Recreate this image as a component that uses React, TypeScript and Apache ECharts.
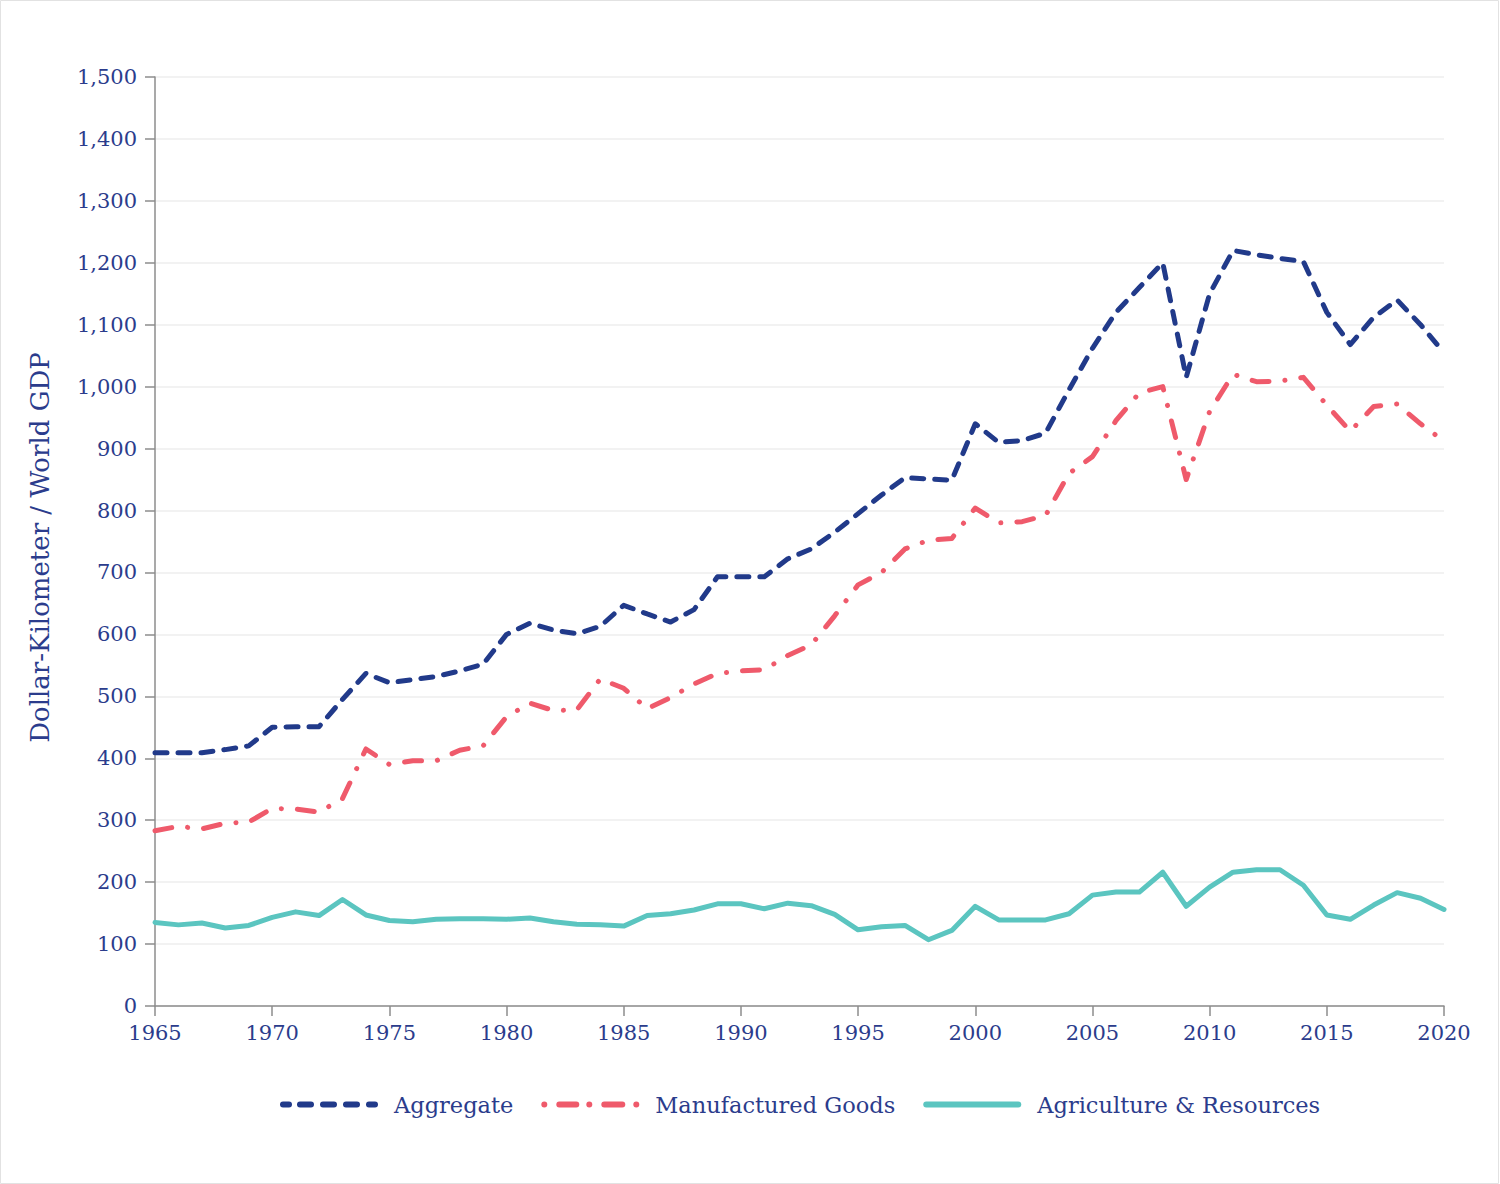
import React, { useEffect, useRef } from "react";
import * as echarts from "echarts";

const years: number[] = [];
for (let y = 1965; y <= 2020; y++) years.push(y);

const aggregate = [
  409, 409, 409, 414, 420, 450, 451, 451, 495, 537,
  522, 527, 532, 541, 552, 600, 618, 607, 601, 613,
  647, 633, 620, 640, 693, 693, 693, 722, 738, 765,
  795, 825, 853, 851, 849, 940, 910, 913, 925, 995,
  1062, 1120, 1160, 1200, 1015, 1150, 1220, 1213, 1207, 1202,
  1120, 1068, 1112, 1140, 1100, 1055,
];

const manufactured = [
  283, 290, 286, 295, 297, 319, 318, 313, 335, 415,
  390, 396, 396, 413, 420, 467, 489, 477, 478, 528,
  513, 480, 498, 520, 537, 541, 543, 566, 583, 630,
  680, 700, 738, 752, 755, 804, 780, 782, 792, 860,
  887, 945, 990, 1000, 850, 960, 1020, 1008, 1009, 1015,
  970, 928, 968, 972, 940, 912,
];

const agriculture = [
  135, 131, 134, 126, 130, 143, 152, 146, 172, 147,
  138, 136, 140, 141, 141, 140, 142, 136, 132, 131,
  129, 146, 149, 155, 165, 165, 157, 166, 162, 148,
  123, 128, 130, 107, 122, 161, 139, 139, 139, 149,
  179, 184, 184, 216, 161, 192, 216, 220, 220, 195,
  147, 140, 163, 183, 174, 156,
];

const seriesNames = ["Aggregate", "Manufactured Goods", "Agriculture & Resources"];
const yTicks = { min: 0, max: 1500, interval: 100 };
const xTicks = { min: 1965, max: 2020, interval: 5 };

const TEXT = "#2b3c8c";
const FONT = "'DejaVu Serif', serif";
const NAVY = "#213a8a";
const PINK = "#ef5a6b";
const TEAL = "#5bc5c0";

const ICON_W = 98;
const ICON_H = 6;

// rounded segment path pieces for legend icons (x ranges within ICON_W)
function segPath(segs: number[][]): string {
  const r = ICON_H / 2;
  const parts = segs.map(([a, b]) => {
    const a1 = a + r;
    const b1 = Math.max(b - r, a1 + 0.01);
    return `M${a1},0 L${b1},0 A${r},${r} 0 0 1 ${b1},${ICON_H} L${a1},${ICON_H} A${r},${r} 0 0 1 ${a1},0 Z`;
  });
  return "path://" + parts.join(" ");
}

const aggIcon = segPath([[0, 12], [17, 34], [40, 57], [63, 80], [86, 98]]);
const manIcon = segPath([[0, 6], [15, 38], [45, 51], [60, 84], [92, 98]]);
const agrIcon = segPath([[0, 98]]);

export default function App() {
  const ref = useRef<HTMLDivElement>(null);
  useEffect(() => {
    document.body.style.margin = "0";
    if (!ref.current) return;
    const chart = echarts.init(ref.current, undefined, { renderer: "svg" });
    const pair = (arr: number[]) => arr.map((v, i) => [years[i], v]);
    chart.setOption({
      animation: false,
      backgroundColor: "#ffffff",
      textStyle: { fontFamily: FONT, color: TEXT },
      graphic: [
        {
          type: "rect",
          shape: { x: 0.5, y: 0.5, width: 1498, height: 1183 },
          style: { fill: "none", stroke: "#e2e2e2", lineWidth: 1 },
          silent: true,
          z: -1,
        },
      ],
      grid: { left: 155, right: 56, top: 77, bottom: 178, containLabel: false },
      legend: {
        top: 1088,
        left: 275,
        itemWidth: ICON_W,
        itemHeight: ICON_H,
        itemGap: 28,
        symbolKeepAspect: false,
        itemStyle: { borderWidth: 0 },
        textStyle: { fontFamily: FONT, fontSize: 22.5, color: TEXT, padding: [0, 0, 0, 11] },
        data: [
          { name: seriesNames[0], icon: aggIcon },
          { name: seriesNames[1], icon: manIcon },
          { name: seriesNames[2], icon: agrIcon },
        ],
      },
      xAxis: {
        type: "value",
        min: xTicks.min,
        max: xTicks.max,
        interval: xTicks.interval,
        axisLine: { show: true, lineStyle: { color: "#8c8c8c", width: 1.5 } },
        axisTick: { show: true, length: 10, lineStyle: { color: "#8c8c8c", width: 1.5 } },
        splitLine: { show: false },
        axisLabel: {
          fontFamily: FONT,
          fontSize: 21,
          color: TEXT,
          margin: 16,
          formatter: (v: number) => String(v),
        },
      },
      yAxis: {
        type: "value",
        min: yTicks.min,
        max: yTicks.max,
        interval: yTicks.interval,
        name: "Dollar-Kilometer / World GDP",
        nameLocation: "middle",
        nameGap: 102,
        nameTextStyle: { fontFamily: FONT, fontSize: 26, color: TEXT, padding: [0, 12, 0, 0] },
        axisLine: { show: true, lineStyle: { color: "#8c8c8c", width: 1.5 } },
        axisTick: { show: true, length: 10, lineStyle: { color: "#8c8c8c", width: 1.5 } },
        splitLine: { show: true, lineStyle: { color: "#eeeeee", width: 1.5 } },
        axisLabel: {
          fontFamily: FONT,
          fontSize: 21,
          color: TEXT,
          margin: 18,
          formatter: (v: number) => v.toLocaleString("en-US"),
        },
      },
      series: [
        {
          name: seriesNames[0],
          type: "line",
          data: pair(aggregate),
          symbol: "none",
          color: NAVY,
          itemStyle: { color: NAVY },
          lineStyle: { width: 5, color: NAVY, type: [12, 11], cap: "round", join: "round" },
          z: 3,
        },
        {
          name: seriesNames[1],
          type: "line",
          data: pair(manufactured),
          symbol: "none",
          color: PINK,
          itemStyle: { color: PINK },
          lineStyle: { width: 5, color: PINK, type: [17, 16, 0.1, 16], cap: "round", join: "round" },
          z: 2,
        },
        {
          name: seriesNames[2],
          type: "line",
          data: pair(agriculture),
          symbol: "none",
          color: TEAL,
          itemStyle: { color: TEAL },
          lineStyle: { width: 5, color: TEAL, cap: "round", join: "round" },
          z: 1,
        },
      ],
    });
    return () => chart.dispose();
  }, []);
  return <div ref={ref} style={{ width: 1500, height: 1184 }} />;
}
